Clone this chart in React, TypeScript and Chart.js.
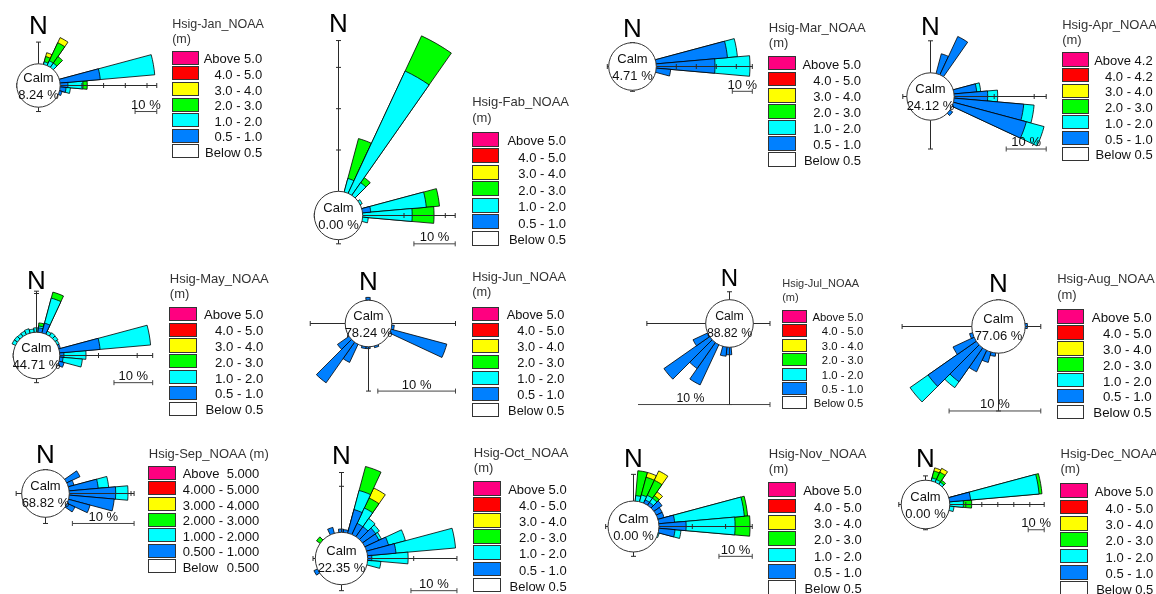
import React, { useEffect, useRef } from "react";
import { Chart, registerables } from "chart.js";

Chart.register(...registerables);

// ---------- categories ----------
const DIRECTIONS = [0, 10, 20, 30, 40, 50, 60, 70, 80, 90, 100, 110, 120, 130, 140, 150, 160, 170,
  180, 190, 200, 210, 220, 230, 240, 250, 260, 270, 280, 290, 300, 310, 320, 330, 340, 350];

// wave height classes drawn as stacked rose segments (inner -> outer)
const CLASS_COLORS = ["#0080FF", "#00FFFF", "#00FF00", "#FFFF00", "#FF0000", "#FF0080"];
const LEGEND_COLORS = ["#FF0080", "#FF0000", "#FFFF00", "#00FF00", "#00FFFF", "#0080FF", "#FFFFFF"];
const LABELS_STD = [["Above 5.0"], ["4.0 - 5.0"], ["3.0 - 4.0"], ["2.0 - 3.0"], ["1.0 - 2.0"], ["0.5 - 1.0"], ["Below 0.5"]];
const LABELS_APR = [["Above 4.2"], ["4.0 - 4.2"], ["3.0 - 4.0"], ["2.0 - 3.0"], ["1.0 - 2.0"], ["0.5 - 1.0"], ["Below 0.5"]];
const LABELS_SEP = [["Above", "5.000"], ["4.000 - 5.000"], ["3.000 - 4.000"], ["2.000 - 3.000"], ["1.000 - 2.000"], ["0.500 - 1.000"], ["Below", "0.500"]];

// ---------- series: [direction, 0.5-1.0, 1.0-2.0, 2.0-3.0, 3.0-4.0, 4.0-5.0, >5.0] in % ----------
const JAN_BARS = [
  [20, 0, 1.1, 2.5, 1.8],
  [30, 0, 2.3, 9.2, 2.6],
  [40, 0, 2.3, 3.7],
  [80, 18.8, 25.2],
  [90, 3.8, 6.9, 2.0],
  [100, 3.0, 2.0],
  [110, 1.5],
];
const FEB_BARS = [
  [20, 0, 3.3, 10.0],
  [30, 0, 32.6, 9.4],
  [40, 0, 3.7, 1.5],
  [60, 0, 0.6],
  [80, 2.1, 13.5, 3.2],
  [90, 0, 12.1, 5.3],
  [100, 0, 1.5],
];
const MAR_BARS = [
  [80, 36, 5],
  [90, 29.6, 17.5],
  [100, 7.5],
];
const APR_BARS = [
  [20, 5],
  [30, 10.5],
  [80, 5.8, 1],
  [90, 8.5, 2.5],
  [100, 17.6, 2.6],
  [110, 19, 4.6],
  [130, 1],
];
const MAY_BARS = [
  [0, 0, 1.0],
  [10, 1, 0.5, 0.8],
  [20, 2.5, 6.7, 1.6],
  [30, 0, 0.8],
  [40, 0, 1.0],
  [50, 0, 0.9],
  [60, 0, 0.6],
  [70, 0.5],
  [80, 10.6, 13.1],
  [90, 1.2, 5.7],
  [100, 1, 5],
  [110, 1.5],
  [300, 0, 0.8],
  [310, 0, 0.8],
  [320, 0, 0.7],
  [330, 0, 0.8],
  [340, 0, 1.0],
  [350, 0, 0.7],
];
const JUN_BARS = [
  [0, 0.3], [100, 0.4], [110, 7.5], [160, 0.3], [180, 0.3], [190, 0.3],
  [210, 2.6], [220, 6.4], [230, 1.8],
];
const JUL_BARS = [
  [180, 0.5], [190, 0.6], [210, 2.8], [220, 2.0], [230, 3.5], [240, 1.0],
];
const AUG_BARS = [
  [90, 0.3], [190, 0.4], [200, 1.2], [210, 2.6], [220, 4.5, 0.8], [230, 6.4, 2.4], [240, 2.5], [250, 0.3],
];
const SEP_BARS = [
  [60, 2.4], [70, 1], [80, 4.8, 1.7], [90, 7.6, 2.0], [100, 7.4], [110, 3.7], [120, 1.5],
];
const OCT_BARS = [
  [0, 0.6], [10, 0.5], [20, 5.2, 4.3, 5.4], [30, 2.6, 3.7, 2.4, 2.4], [40, 2.6, 2.2], [50, 3.5, 1],
  [60, 3.4, 0.6], [70, 5, 3.8], [80, 6.3, 13], [90, 1, 7.9], [100, 0, 3], [240, 0.8], [310, 0, 0, 0.8], [340, 1.2],
];
const NOV_BARS = [
  [10, 0, 1.5, 7.5], [20, 0, 2, 5.5, 1.5], [30, 1, 1.5, 5, 3.1], [40, 1, 1.5, 1, 1.4], [50, 3], [60, 2], [70, 2],
  [80, 4.9, 21, 1], [90, 8.3, 14.7, 4.5], [100, 5, 1.8], [110, 0, 0.5],
];
const DEC_BARS = [
  [20, 0, 1.7, 4.5, 2], [30, 0, 1.7, 5, 2.7], [40, 0, 1.5, 1.5], [80, 13.4, 43, 1.8], [90, 0, 8.8, 5.2], [100, 0, 3],
];

const TITLES = ["Hsig-Jan_NOAA", "Hsig-Fab_NOAA", "Hsig-Mar_NOAA", "Hsig-Apr_NOAA", "Hsig-May_NOAA", "Hsig-Jun_NOAA",
  "Hsig-Jul_NOAA", "Hsig-Aug_NOAA", "Hsig-Sep_NOAA (m)", "Hsig-Oct_NOAA", "Hsig-Nov_NOAA", "Hsig-Dec_NOAA"];
const CALMS = ["8.24 %", "0.00 %", "4.71 %", "24.12 %", "44.71 %", "78.24 %", "88.82 %", "77.06 %", "68.82 %", "22.35 %", "0.00 %", "0.00 %"];
const SCALE_LABEL = "10 %";
const SCALE_PCT = 10;

// ---------- layout (page px) ----------
type Leg = { x: number; tb: number; mb: number | null; top: number; row: number; fs: number; bw: number; lr: number; tfs: number };
type Panel = {
  bars: number[][]; labels: string[][];
  cx: number; cy: number; calmR: number; ppp: number; arms: number[];
  ny: number; nfs: number; cfs: number; leg: Leg;
};

const PANELS: Panel[] = [
  { bars: JAN_BARS, labels: LABELS_STD, cx: 37.7, cy: 85, calmR: 21.7, ppp: 2.17, arms: [10, 44.5, 2, 0], ny: 34, nfs: 26, cfs: 13,
    leg: { x: 171.7, tb: 28.3, mb: 43.3, top: 50.7, row: 15.6, fs: 13, bw: 27.5, lr: 90.5, tfs: 12.5 } },
  { bars: FEB_BARS, labels: LABELS_STD, cx: 337.7, cy: 215, calmR: 24.2, ppp: 4.13, arms: [36.5, 22.4, 1, 0], ny: 32.3, nfs: 26, cfs: 13,
    leg: { x: 471.7, tb: 106, mb: 121.7, top: 131.7, row: 16.5, fs: 13, bw: 27.6, lr: 94.3, tfs: 13 } },
  { bars: MAR_BARS, labels: LABELS_STD, cx: 632.2, cy: 66, calmR: 23.8, ppp: 2.0, arms: [0, 48, 0.5, 0.7], ny: 37.3, nfs: 26, cfs: 13,
    leg: { x: 768.3, tb: 32.3, mb: 46.7, top: 55.7, row: 16.1, fs: 13, bw: 27.4, lr: 92.7, tfs: 13 } },
  { bars: APR_BARS, labels: LABELS_APR, cx: 929.7, cy: 95.7, calmR: 23.7, ppp: 4.0, arms: [8, 23, 7.2, 1], ny: 35, nfs: 26, cfs: 13,
    leg: { x: 1061.7, tb: 29.3, mb: 44.3, top: 52.3, row: 15.7, fs: 13, bw: 27.3, lr: 91, tfs: 13 } },
  { bars: MAY_BARS, labels: LABELS_STD, cx: 36, cy: 354.5, calmR: 23.3, ppp: 3.87, arms: [10.6, 24, 1, 0], ny: 289, nfs: 26, cfs: 13,
    leg: { x: 169.3, tb: 283.3, mb: 297.7, top: 306.7, row: 15.8, fs: 13.2, bw: 28, lr: 94, tfs: 13 } },
  { bars: JUN_BARS, labels: LABELS_STD, cx: 368.3, cy: 323.3, calmR: 23.3, ppp: 7.77, arms: [0, 8.2, 5.7, 4.5], ny: 290, nfs: 26, cfs: 13,
    leg: { x: 471.7, tb: 281.7, mb: 296.7, top: 306.7, row: 16, fs: 12.8, bw: 27.3, lr: 92.6, tfs: 12.8 } },
  { bars: JUL_BARS, labels: LABELS_STD, cx: 728.8, cy: 323.3, calmR: 23.8, ppp: 15.9, arms: [0.5, 1.05, 3.6, 3.7], ny: 286.7, nfs: 24, cfs: 12.3,
    leg: { x: 781.7, tb: 287.7, mb: 301, top: 310, row: 14.4, fs: 11.3, bw: 25, lr: 81.6, tfs: 11 } },
  { bars: AUG_BARS, labels: LABELS_STD, cx: 998.3, cy: 325.7, calmR: 26.7, ppp: 9.17, arms: [0, 1.7, 6.3, 7.6], ny: 291.7, nfs: 26, cfs: 13,
    leg: { x: 1056.7, tb: 283.3, mb: 299.3, top: 309.3, row: 15.9, fs: 13.3, bw: 27.3, lr: 95, tfs: 13 } },
  { bars: SEP_BARS, labels: LABELS_SEP, cx: 44.5, cy: 493.3, calmR: 23.8, ppp: 6.17, arms: [0, 10.5, 1, 0.9], ny: 463.3, nfs: 26, cfs: 13,
    leg: { x: 148.3, tb: 457.7, mb: null, top: 465.7, row: 15.6, fs: 13, bw: 27.4, lr: 111, tfs: 13 } },
  { bars: OCT_BARS, labels: LABELS_STD, cx: 341.2, cy: 557.7, calmR: 26.2, ppp: 4.6, arms: [13, 19.4, 1.3, 0.5], ny: 464.3, nfs: 26, cfs: 13,
    leg: { x: 473.3, tb: 456.7, mb: 471.7, top: 481, row: 16.1, fs: 13, bw: 27.7, lr: 93.4, tfs: 13 } },
  { bars: NOV_BARS, labels: LABELS_STD, cx: 632.8, cy: 525.7, calmR: 25.5, ppp: 3.33, arms: [8, 28, 1.3, 0.7], ny: 466.7, nfs: 26, cfs: 13,
    leg: { x: 768.3, tb: 458.3, mb: 473.3, top: 482.3, row: 16.3, fs: 13, bw: 27.7, lr: 93.4, tfs: 13 } },
  { bars: DEC_BARS, labels: LABELS_STD, cx: 925, cy: 503.7, calmR: 24.3, ppp: 1.6, arms: [2.7, 59, 0.6, 1.5], ny: 466.7, nfs: 26, cfs: 13,
    leg: { x: 1060, tb: 458.3, mb: 473.3, top: 483.3, row: 16.3, fs: 13, bw: 27.7, lr: 93.3, tfs: 13 } },
];

const FONT = "'Liberation Sans', Arial, Helvetica, sans-serif";
const ASC = 0.8465; // baseline offset for line-height = 1em (Liberation Sans)
const AXIS_COLOR = "#2a2a2a";
const TICK_STEP = 10;

function Txt(props: { x: number; base: number; fs: number; align?: "left" | "center" | "right"; w?: number; color?: string; children: any; justify?: boolean }) {
  const { x, base, fs, align = "left", w = 220, color = "#111", children, justify } = props;
  const left = align === "center" ? x - w / 2 : align === "right" ? x - w : x;
  return (
    <div
      style={{
        position: "absolute", left, top: base - ASC * fs, width: w, fontSize: fs, lineHeight: `${fs}px`,
        fontFamily: FONT, textAlign: align, color, whiteSpace: "nowrap",
        display: justify ? "flex" : "block", justifyContent: justify ? "space-between" : undefined,
      }}
    >
      {children}
    </div>
  );
}

function sumBar(b: number[]) {
  let s = 0;
  for (let i = 1; i < b.length; i++) s += b[i] || 0;
  return s;
}

function Rose({ p, idx }: { p: Panel; idx: number }) {
  const ref = useRef<HTMLCanvasElement | null>(null);
  const maxPct = Math.max(...p.arms, ...p.bars.map(sumBar));
  const Rc = Math.ceil(p.calmR + maxPct * p.ppp + 8);
  const left = Math.round(p.cx - Rc);
  const top = Math.round(p.cy - Rc);
  const pcx = left + Rc + 0.5;
  const pcy = top + Rc + 0.5;
  const dist = (v: number) => p.calmR + v * p.ppp;

  useEffect(() => {
    const canvas = ref.current;
    if (!canvas) return;
    const datasets = CLASS_COLORS.map((col, c) => {
      const data = DIRECTIONS.map(() => 0);
      const bg = DIRECTIONS.map(() => "rgba(0,0,0,0)");
      const bw = DIRECTIONS.map(() => 0);
      p.bars.forEach((b) => {
        const k = DIRECTIONS.indexOf(b[0]);
        let s = 0;
        for (let j = 0; j <= c; j++) s += b[j + 1] || 0;
        data[k] = s;
        if ((b[c + 1] || 0) > 0) {
          bg[k] = col;
          bw[k] = 0.8;
        }
      });
      return { label: `class ${c}`, data, backgroundColor: bg, borderColor: "#000", borderWidth: bw };
    });

    const decor = {
      id: "roseDecor",
      afterDatasetsDraw(chart: any) {
        const s = chart.scales.r;
        const ctx = chart.ctx as CanvasRenderingContext2D;
        const cx = s.xCenter + 0.5;
        const cy = s.yCenter + 0.5;
        const d = (v: number) => s.getDistanceFromCenterForValue(v);
        ctx.save();
        ctx.lineWidth = 1;
        ctx.strokeStyle = AXIS_COLOR;
        const dirs = [[0, -1], [1, 0], [0, 1], [-1, 0]];
        p.arms.forEach((a, i) => {
          const ux = dirs[i][0], uy = dirs[i][1];
          const end = d(a);
          ctx.beginPath();
          ctx.moveTo(cx, cy);
          ctx.lineTo(cx + ux * end, cy + uy * end);
          ctx.stroke();
          const ticks: number[] = [];
          for (let t = TICK_STEP; t < a - 0.3; t += TICK_STEP) ticks.push(d(t));
          ticks.push(end);
          ticks.forEach((r) => {
            const px = cx + ux * r, py = cy + uy * r;
            const qx = -uy, qy = ux;
            ctx.beginPath();
            ctx.moveTo(px - qx * 2.5, py - qy * 2.5);
            ctx.lineTo(px + qx * 2.5, py + qy * 2.5);
            ctx.stroke();
          });
        });
        // scale bar (10 %)
        const R = d(p.arms[1]);
        const D = d(p.arms[2]);
        const L = d(SCALE_PCT) - d(0);
        ctx.strokeStyle = "#444";
        ctx.beginPath();
        ctx.moveTo(cx + R - L, cy + D);
        ctx.lineTo(cx + R, cy + D);
        ctx.moveTo(cx + R - L, cy + D - 2.5);
        ctx.lineTo(cx + R - L, cy + D + 2.5);
        ctx.moveTo(cx + R, cy + D - 2.5);
        ctx.lineTo(cx + R, cy + D + 2.5);
        ctx.stroke();
        // calm circle
        ctx.beginPath();
        ctx.arc(cx, cy, d(0), 0, Math.PI * 2);
        ctx.fillStyle = "#fff";
        ctx.fill();
        ctx.strokeStyle = "#333";
        ctx.stroke();
        ctx.restore();
      },
    };

    const chart = new Chart(canvas, {
      type: "polarArea",
      data: { labels: DIRECTIONS.map((d) => `${d}°`), datasets },
      options: {
        responsive: false,
        animation: false,
        events: [],
        layout: { padding: 0 },
        plugins: { legend: { display: false }, tooltip: { enabled: false } },
        scales: {
          r: {
            display: false,
            min: -p.calmR / p.ppp,
            max: (Rc - p.calmR) / p.ppp,
            startAngle: -5,
            bounds: "data",
          } as any,
        },
      } as any,
      plugins: [decor as any],
    });
    return () => chart.destroy();
  }, []);

  const R = dist(p.arms[1]);
  const D = dist(p.arms[2]);
  const L = SCALE_PCT * p.ppp;
  return (
    <>
      <canvas
        ref={ref}
        width={2 * Rc}
        height={2 * Rc}
        style={{ position: "absolute", left, top, width: 2 * Rc, height: 2 * Rc }}
      />
      <Txt x={pcx} base={p.ny} fs={p.nfs} align="center" w={60} color="#000">N</Txt>
      <Txt x={pcx} base={pcy - 3} fs={p.cfs} align="center" w={80} color="#111">Calm</Txt>
      <Txt x={pcx} base={pcy + 13.5} fs={p.cfs} align="center" w={80} color="#111">{CALMS[idx]}</Txt>
      <Txt x={pcx + R - L / 2} base={pcy + D - 2.5} fs={p.cfs} align="center" w={60} color="#111">{SCALE_LABEL}</Txt>
    </>
  );
}

function Legend({ p, idx }: { p: Panel; idx: number }) {
  const g = p.leg;
  const boxH = g.row - 1.4;
  return (
    <>
      <Txt x={g.x + 0.5} base={g.tb} fs={g.tfs} color="#333" w={300}>{TITLES[idx]}</Txt>
      {g.mb !== null && <Txt x={g.x + 0.5} base={g.mb} fs={g.tfs} color="#333">(m)</Txt>}
      {p.labels.map((lab, i) => {
        const t = g.top + i * g.row;
        const labelLeft = g.x + g.bw + 7;
        return (
          <React.Fragment key={i}>
            <div
              style={{
                position: "absolute", left: g.x, top: t, width: g.bw, height: boxH,
                boxSizing: "border-box", border: "1.3px solid #333", background: LEGEND_COLORS[i],
              }}
            />
            {lab.length === 2 ? (
              <Txt x={labelLeft} base={t + 0.81 * g.row} fs={g.fs} w={g.lr - g.bw - 7} justify color="#111">
                <span>{lab[0]}</span>
                <span>{lab[1]}</span>
              </Txt>
            ) : (
              <Txt x={g.x + g.lr} base={t + 0.81 * g.row} fs={g.fs} align="right" w={120} color="#111">{lab[0]}</Txt>
            )}
          </React.Fragment>
        );
      })}
    </>
  );
}

export default function App() {
  return (
    <div style={{ position: "absolute", left: 0, top: 0, width: 1156, height: 594, overflow: "hidden", background: "#fff" }}>
      {PANELS.map((p, i) => (
        <Rose key={`r${i}`} p={p} idx={i} />
      ))}
      {PANELS.map((p, i) => (
        <Legend key={`l${i}`} p={p} idx={i} />
      ))}
    </div>
  );
}
